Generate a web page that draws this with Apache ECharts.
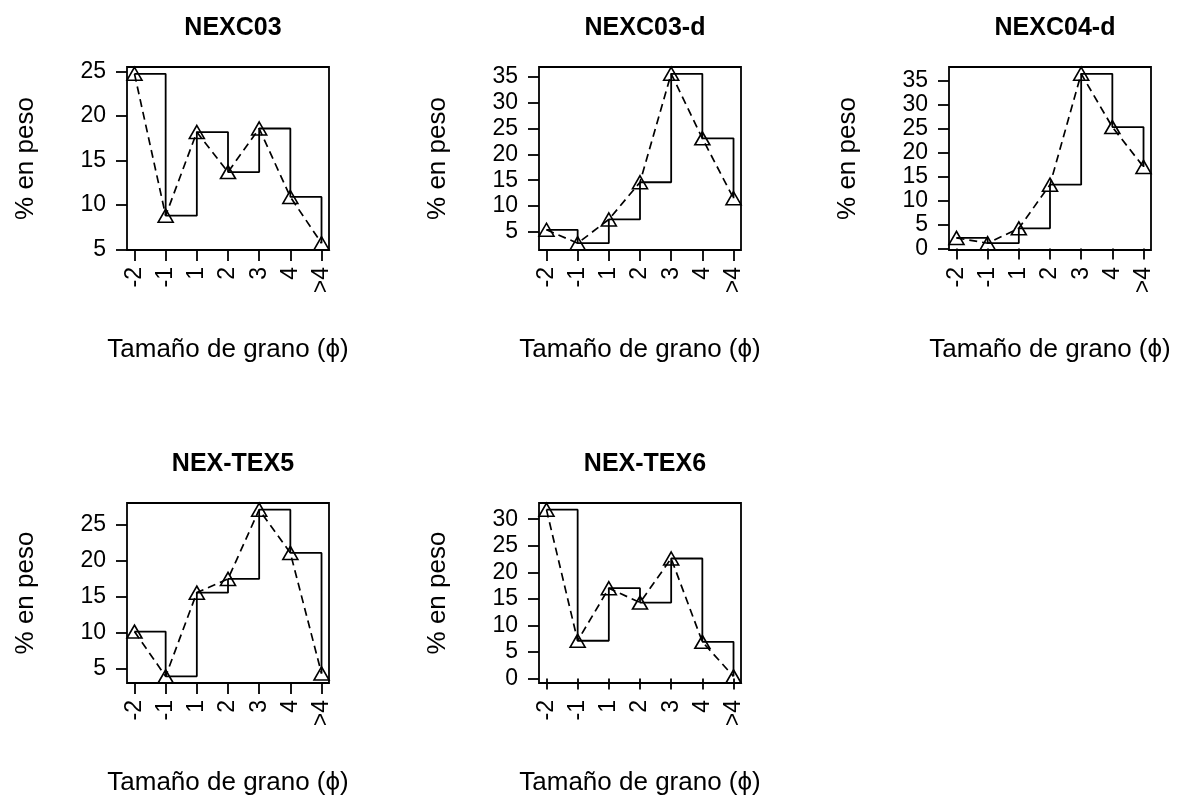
<!DOCTYPE html>
<html>
<head>
<meta charset="utf-8">
<script src="https://cdn.jsdelivr.net/npm/echarts@6/dist/echarts.min.js"></script>
<style>
  html, body { margin: 0; padding: 0; background: #fff; }
  #chart { width: 1178px; height: 797px; }
</style>
</head>
<body>
<div id="chart"></div>
<script>
// Grain-size classes (phi)
const categories = ['-2', '-1', '1', '2', '3', '4', '>4'];

// Weight percent per class, one array per sample
const nexc03  = [24.75, 8.8, 18.2, 13.7, 18.6, 10.9, 5.7];
const nexc03d = [5.4, 2.8, 7.4, 14.6, 35.6, 23.1, 11.5];
const nexc04d = [2.2, 1.1, 4.2, 13.3, 36.4, 25.3, 17.0];
const nexTex5 = [10.2, 4.0, 15.6, 17.5, 27.1, 21.1, 4.4];
const nexTex6 = [31.8, 7.1, 17.0, 14.3, 22.6, 6.9, 0.4];

// Y tick values per panel
const ticks03  = [5, 10, 15, 20, 25];
const ticks03d = [5, 10, 15, 20, 25, 30, 35];
const ticks04d = [0, 5, 10, 15, 20, 25, 30, 35];
const ticksT5  = [5, 10, 15, 20, 25];
const ticksT6  = [0, 5, 10, 15, 20, 25, 30];

const titles = ['NEXC03', 'NEXC03-d', 'NEXC04-d', 'NEX-TEX5', 'NEX-TEX6'];
const samples = [nexc03, nexc03d, nexc04d, nexTex5, nexTex6];
const yTicks = [ticks03, ticks03d, ticks04d, ticksT5, ticksT6];

const yLabel = '% en peso';
const xLabel = 'Tamaño de grano (\u03d5)';

// Plot-box placement (px)
const boxes = [
  { left: 127, top: 67,  width: 202, height: 183 },
  { left: 539, top: 67,  width: 202, height: 183 },
  { left: 949, top: 67,  width: 202, height: 183 },
  { left: 127, top: 503, width: 202, height: 182 },
  { left: 539, top: 503, width: 202, height: 182 }
];

const FONT = "'Liberation Sans', Arial, sans-serif";
const xIdx = categories.map((c, i) => i + 1);

// R-style 4% range extension
function extend(lo, hi) {
  const r = hi - lo;
  return [lo - 0.04 * r, hi + 0.04 * r];
}

const grid = [], xAxis = [], yAxis = [], series = [], title = [];

samples.forEach((vals, k) => {
  const b = boxes[k];
  grid.push({
    left: b.left, top: b.top, width: b.width, height: b.height,
    show: true, borderColor: '#000', borderWidth: 1.8, backgroundColor: 'transparent'
  });
  const xr = extend(1, categories.length);
  xAxis.push({
    type: 'value', gridIndex: k, min: xr[0], max: xr[1],
    axisLine: { show: false },
    splitLine: { show: false },
    axisTick: { show: true, customValues: xIdx, length: 11, lineStyle: { color: '#000', width: 1.8 } },
    axisLabel: {
      customValues: xIdx, rotate: 90, margin: 17,
      color: '#000', fontFamily: FONT, fontSize: 23,
      formatter: v => categories[Math.round(v) - 1]
    },
    name: xLabel, nameLocation: 'middle', nameGap: 87,
    nameTextStyle: { color: '#000', fontFamily: FONT, fontSize: 26 }
  });
  const yr = extend(Math.min(...vals), Math.max(...vals));
  yAxis.push({
    type: 'value', gridIndex: k, min: yr[0], max: yr[1],
    axisLine: { show: false },
    splitLine: { show: false },
    axisTick: { show: true, customValues: yTicks[k], length: 11, lineStyle: { color: '#000', width: 1.8 } },
    axisLabel: {
      customValues: yTicks[k], margin: 21,
      color: '#000', fontFamily: FONT, fontSize: 23
    },
    name: yLabel, nameLocation: 'middle', nameGap: 88, nameRotate: 90,
    nameTextStyle: { color: '#000', fontFamily: FONT, fontSize: 26 }
  });
  const pts = vals.map((v, i) => [i + 1, v]);
  // stair-step outline
  series.push({
    type: 'line', xAxisIndex: k, yAxisIndex: k, data: pts, step: 'end',
    showSymbol: false, silent: true, animation: false,
    lineStyle: { color: '#000', width: 1.8, type: 'solid' }
  });
  // dashed polyline with open triangles
  series.push({
    type: 'line', xAxisIndex: k, yAxisIndex: k, data: pts,
    symbol: 'triangle', symbolSize: [15, 13], showSymbol: true, silent: true, animation: false,
    itemStyle: { color: 'rgba(0,0,0,0)', borderColor: '#000', borderWidth: 1.6 },
    lineStyle: { color: '#000', width: 1.7, type: [8, 5] }
  });
  title.push({
    text: titles[k], left: b.left + b.width / 2, top: b.top - 56, textAlign: 'center',
    textStyle: { color: '#000', fontFamily: FONT, fontSize: 25, fontWeight: 'bold' }
  });
});

const chart = echarts.init(document.getElementById('chart'), null, { renderer: 'canvas' });
chart.setOption({
  animation: false,
  backgroundColor: '#fff',
  title, grid, xAxis, yAxis, series
});
</script>
</body>
</html>
